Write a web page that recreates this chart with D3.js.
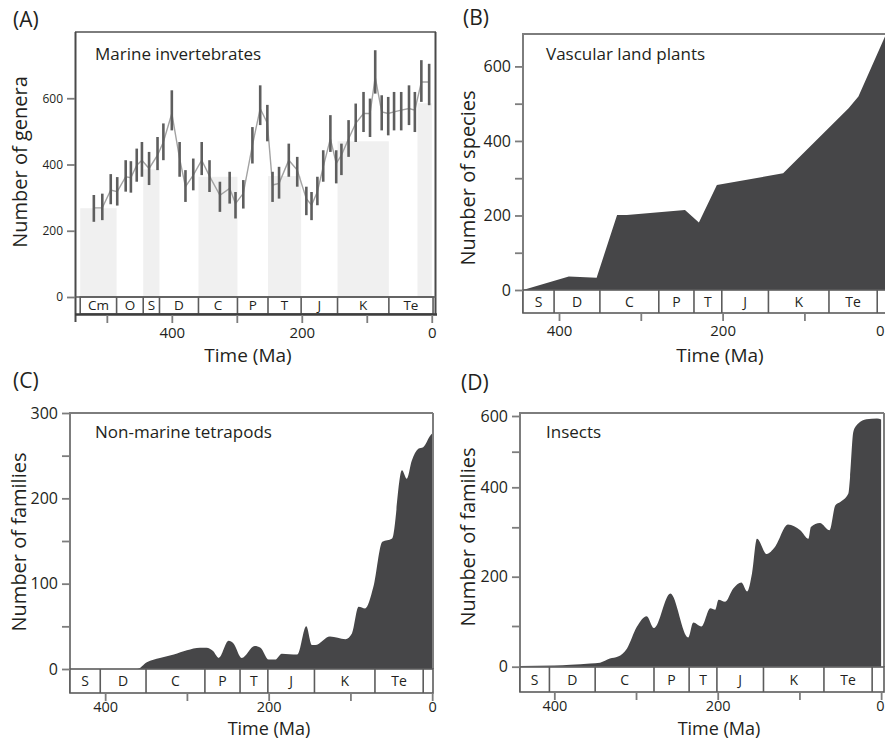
<!DOCTYPE html>
<html><head><meta charset="utf-8">
<script src="https://cdn.jsdelivr.net/npm/d3@7"></script>
<style>
body{margin:0;background:#fff}
svg{display:block}
text{font-family:"Open Sans",sans-serif;fill:#231f20}
</style>
</head><body>
<svg id="c" width="885" height="741"></svg>
<script>
// ---------------- DATA ----------------
// (A) Marine invertebrates: time (Ma), mean genera, error range
const timeA = [520,507,494,484,471,463,454,446,435,422,413,400,388,379,367,354,342,326,311,302,290,276,264,253,245,235,220,207,193,185,176,167,156,147,139,128,117,105,95,87,77,67,58,47,35,26,16,4];
const meanA = [269,269,323,318,363,360,398,413,388,428,468,554,418,333,368,413,365,307,328,282,313,458,569,525,338,343,413,383,297,277,318,393,478,403,428,478,524,554,554,664,559,554,559,564,569,564,649,649];
const lowA  = [227,232,280,276,318,315,348,363,338,383,413,503,363,287,322,368,317,257,282,237,267,403,519,470,287,297,363,333,247,232,277,348,438,343,368,423,468,498,483,614,503,488,503,503,519,498,589,579];
const highA = [308,312,371,362,413,410,448,468,438,483,524,624,468,383,418,468,413,348,378,317,353,513,639,580,378,393,463,423,333,317,363,443,549,443,463,534,584,619,599,745,609,604,619,619,639,619,715,704];
const periodNamesA = ["Cm","O","S","D","C","P","T","J","K","Te"];
const periodBoundsA = [541,485,444,419,359,299,252,201,145,66,-2];
const bandStartA = [541,444,359,252,145,22];
const bandEndA   = [485,419,299,201,66,0];
const bandTopA   = [268,385,363,365,470,585];

// (B) Vascular land plants
const timeB  = [444,388,354,329,317,246,229,207,126,46,34,0];
const valueB = [0,36,33,201,201,215,181,282,313,488,519,688];

// (C) Non-marine tetrapods
const timeC  = [443,361,349,333,316,300,284,276,268,261,249,243,233,217,210,200,192,184,165,154,147,143,125,106,98,90,82,72,61,49,37,31,25,17,11,2,0];
const valueC = [0,0,8,13,17,22,25,25,21,13,33,30,13,27,25,11,11,18,17,50,28,28,38,35,42,73,71,96,149,153,233,223,244,258,260,274,276];

// (D) Insects
const timeD  = [442,400,380,356,344,332,322,311,299,287,278,258,236,230,220,209,203,199,191,181,171,164,158,152,140,130,114,99,89,86,75,63,56,50,40,38,34,28,18,5,0];
const valueD = [2,3,5,8,10,20,25,45,98,120,95,166,72,107,99,136,133,153,149,176,188,170,207,277,246,260,307,294,277,301,311,294,355,363,385,429,556,579,591,593,590];

// period bar shared by B, C, D
const periodNames = ["S","D","C","P","T","J","K","Te",""];
const periodBounds = [444,406,350,278,235,201,144,70,11,-3];

const yTicksA = [0,200,400,600];
const yTicksB = [0,100,200,300,400,500,600];
const yTicksC = [0,50,100,150,200,250,300];
const yTicksD = [0,100,200,300,400,500,600];
const xTicks = [400,300,200,100,0];
const xTicksA = [500,400,300,200,100,0];
const xLabels = [400,200,0];

// ---------------- DRAWING ----------------
const W = 885;
const svg = d3.select("#c");
const FRAME = "#7d7d7d", BOX = "#5c5c5c", FILL = "#464648";

function line(g, x1, y1, x2, y2, col, w) {
  g.append("line").attr("x1", x1).attr("y1", y1).attr("x2", x2).attr("y2", y2)
    .attr("stroke", col).attr("stroke-width", w);
}

function yAxis(g, y, x0, ticks, labelled, fs) {
  const ax = d3.axisLeft(y).tickValues(ticks).tickSize(8).tickPadding(4)
    .tickFormat(d => labelled.includes(d) ? d : "");
  const a = g.append("g").attr("transform", `translate(${x0},0)`).call(ax);
  a.select(".domain").remove();
  a.selectAll("line").attr("stroke", FRAME).attr("stroke-width", 1.8);
  a.selectAll("text").attr("font-size", fs).attr("fill", "#231f20")
    .style("font-family", '"Open Sans",sans-serif');
}

function xAxis(g, x, yb, ticks, fs, pad) {
  const ax = d3.axisBottom(x).tickValues(ticks).tickSize(8).tickPadding(pad)
    .tickFormat(d => xLabels.includes(d) ? d : "");
  const a = g.append("g").attr("transform", `translate(0,${yb})`).call(ax);
  a.select(".domain").remove();
  a.selectAll("line").attr("stroke", FRAME).attr("stroke-width", 1.8);
  a.selectAll("text").attr("font-size", fs).attr("fill", "#231f20")
    .style("font-family", '"Open Sans",sans-serif');
  // keep a label that would fall past the page edge inside it
  a.selectAll(".tick").each(function (d) {
    const t = d3.select(this).select("text");
    const bb = t.node().getBBox();
    const px = x(d);
    if (px + bb.x + bb.width > W - 1) t.attr("x", (W - 1) - (px + bb.x + bb.width));
  });
}

function periodBar(g, x, y0, y1, bounds, names, fs, xl, xr) {
  g.append("rect").attr("x", xl).attr("y", y0).attr("width", xr - xl).attr("height", y1 - y0)
    .attr("fill", "#fff").attr("stroke", BOX).attr("stroke-width", 1.6);
  bounds.slice(1, -1).forEach(b => line(g, x(b), y0, x(b), y1, BOX, 1.6));
  names.forEach((n, i) => {
    g.append("text").attr("x", (x(bounds[i]) + x(bounds[i + 1])) / 2).attr("y", (y0 + y1) / 2)
      .attr("dy", "0.36em").attr("text-anchor", "middle").attr("font-size", fs).text(n);
  });
}

function label(g, txt, x, y, fs, anchor, rot) {
  const t = g.append("text").attr("font-size", fs).attr("text-anchor", anchor || "start").text(txt);
  if (rot) t.attr("transform", `translate(${x},${y}) rotate(-90)`).attr("dy", "0.35em");
  else t.attr("x", x).attr("y", y);
  return t;
}

// ===== Panel A =====
{
  const g = svg.append("g");
  const x = d3.scaleLinear().domain([549, -5]).range([75, 435]);
  const y = d3.scaleLinear().domain([0, 800]).range([297, 32]);
  bandStartA.forEach((s, i) => {
    g.append("rect").attr("x", x(s)).attr("width", x(bandEndA[i]) - x(s))
      .attr("y", y(bandTopA[i])).attr("height", y(0) - y(bandTopA[i])).attr("fill", "#f0f0f0");
  });
  // connecting line
  const pts = timeA.map((t, i) => [t, meanA[i]]);
  g.append("path").datum(pts)
    .attr("d", d3.line().x(d => x(d[0])).y(d => y(d[1])))
    .attr("fill", "none").attr("stroke", "#a2a2a2").attr("stroke-width", 1.4);
  // error bars
  g.selectAll(".eb").data(timeA).enter().append("line")
    .attr("x1", d => x(d)).attr("x2", d => x(d))
    .attr("y1", (d, i) => y(lowA[i])).attr("y2", (d, i) => y(highA[i]))
    .attr("stroke", "#5e5e5e").attr("stroke-width", 2.6);
  // frame
  line(g, 75, 32, 436, 32, FRAME, 1.8);
  line(g, 435.5, 32, 435.5, 314, "#4a4a4a", 2);
  line(g, 75.5, 32, 75.5, 322, "#4a4a4a", 2);
  periodBar(g, x, 297, 314, periodBoundsA, periodNamesA, 13.5, x(541), x(-2));
  line(g, 75, 297, 436, 297, BOX, 1.6);
  line(g, 75, 314.5, 437, 314.5, "#3e3e3e", 2.6);
  yAxis(g, y, 75, yTicksA, yTicksA, 12);
  xAxis(g, x, 315, xTicksA, 15, 4);
  label(g, "(A)", 13, 27, 21);
  label(g, "Marine invertebrates", 95, 60, 17);
  label(g, "Number of genera", 20, 162, 20, "middle", true);
  label(g, "Time (Ma)", 248, 362, 19, "middle");
}

// ===== generic area panel =====
function areaPanel(opt) {
  const g = svg.append("g");
  const { x, y, times, values, top, left, right, y0, yBox } = opt;
  const id = "clip" + opt.name;
  svg.append("clipPath").attr("id", id).append("rect")
    .attr("x", left).attr("y", top).attr("width", right - left).attr("height", y0 - top);
  const pts = times.map((t, i) => [t, values[i]]);
  g.append("path").datum(pts).attr("clip-path", `url(#${id})`)
    .attr("d", d3.area().curve(opt.curve || d3.curveLinear)
      .x(d => x(d[0])).y0(y(0)).y1(d => y(d[1])))
    .attr("fill", FILL);
  line(g, left, top, right, top, FRAME, 2);
  line(g, right, top, right, y0, FRAME, 2);
  line(g, left, top - 1, left, yBox, FRAME, 2);
  periodBar(g, x, y0, yBox, periodBounds.map(b => Math.min(b, opt.x.domain()[0])), periodNames, 14, left, right);
  yAxis(g, y, left, opt.yTicks, opt.yLabels, 16);
  xAxis(g, x, yBox, xTicks, opt.tickFs, opt.tickPad);
  label(g, opt.panel, opt.plx, opt.ply, 21);
  label(g, opt.title, opt.tx, opt.ty, 17);
  label(g, opt.ytitle, opt.yx, opt.yy, 20, "middle", true);
  label(g, "Time (Ma)", opt.timex, opt.timey, opt.timeFs, "middle");
}

// ===== Panel B =====
areaPanel({
  name: "B",
  x: d3.scaleLinear().domain([444, -4]).range([523, 889.5]),
  y: d3.scaleLinear().domain([0, 687]).range([290, 34]),
  times: timeB, values: valueB, top: 34, left: 523, right: 889, y0: 290, yBox: 313,
  yTicks: yTicksB, yLabels: [0, 200, 400, 600], tickFs: 15, tickPad: 4, timeFs: 19,
  panel: "(B)", plx: 463, ply: 25, title: "Vascular land plants", tx: 546, ty: 60,
  ytitle: "Number of species", yx: 468, yy: 178, timex: 720, timey: 362
});

// ===== Panel C =====
areaPanel({
  name: "C",
  x: d3.scaleLinear().domain([443, -1]).range([70, 433]),
  y: d3.scaleLinear().domain([0, 300]).range([669, 413]),
  times: timeC, values: valueC, top: 413, left: 70, right: 433, y0: 669, yBox: 693,
  yTicks: yTicksC, yLabels: [0, 100, 200, 300], curve: d3.curveMonotoneX,
  tickFs: 14.5, tickPad: 1, timeFs: 18,
  panel: "(C)", plx: 13, ply: 388, title: "Non-marine tetrapods", tx: 95, ty: 438,
  ytitle: "Number of families", yx: 19, yy: 542, timex: 269, timey: 735
});

// ===== Panel D (axis of the original is unevenly spaced) =====
areaPanel({
  name: "D",
  x: d3.scaleLinear().domain([442, -4]).range([520, 884.4]),
  y: d3.scaleLinear().domain([0, 100, 200, 300, 400, 500, 600, 607])
       .range([666.7, 626, 576.7, 527.3, 487.3, 451.7, 416, 413]),
  times: timeD, values: valueD, top: 413, left: 520, right: 884, y0: 667, yBox: 692,
  yTicks: yTicksD, yLabels: [0, 200, 400, 600], curve: d3.curveMonotoneX,
  tickFs: 14.5, tickPad: 1, timeFs: 18,
  panel: "(D)", plx: 461, ply: 390, title: "Insects", tx: 546, ty: 438,
  ytitle: "Number of families", yx: 468, yy: 537, timex: 719, timey: 735
});
</script>
</body></html>
